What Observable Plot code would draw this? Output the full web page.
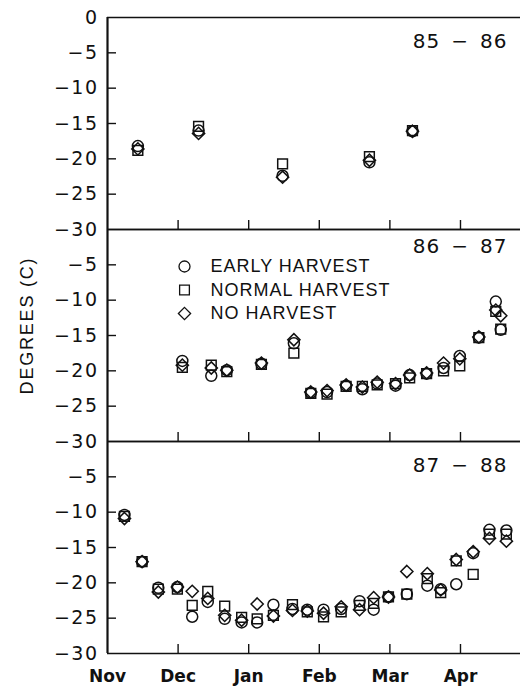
<!DOCTYPE html>
<html>
<head>
<meta charset="utf-8">
<script src="https://cdn.jsdelivr.net/npm/d3@7"></script>
<script src="https://cdn.jsdelivr.net/npm/@observablehq/plot@0.6"></script>
<style>
  html, body { margin: 0; padding: 0; background: #fff; }
  #chart { width: 520px; height: 686px; }
</style>
</head>
<body>
<div id="chart"></div>
<script>
// ---- tick labels / categories ----
const months = ["Nov", "Dec", "Jan", "Feb", "Mar", "Apr"];
const seasons = ["85 − 86", "86 − 87", "87 − 88"];
const seriesNames = ["EARLY HARVEST", "NORMAL HARVEST", "NO HARVEST"];
const yTicks = [-5, -10, -15, -20, -25, -30];
const yInnerTicks = [-5, -10, -15, -20, -25];
const monthTicks = [0, 1, 2, 3, 4, 5];
const innerMonthTicks = [1, 2, 3, 4, 5];

// ---- 1985-86 (x in months after Nov 1) ----
const dates8586  = [0.43, 1.29, 2.48, 3.71, 4.32];
const early8586  = [-18.2, -16.0, -22.4, -20.5, -16.1];
const normal8586 = [-18.8, -15.4, -20.7, -19.7, -16.0];
const no8586     = [-18.6, -16.4, -22.6, -20.2, -16.1];

// ---- 1986-87 ----
const dates8687  = [1.06, 1.47, 1.69, 2.18, 2.64, 2.88, 3.11, 3.38, 3.61, 3.82, 4.08, 4.28, 4.52, 4.76, 4.99, 5.26, 5.50, 5.57];
const early8687  = [-18.6, -20.7, -19.9, -19.0, -16.1, -23.1, -23.0, -22.1, -22.6, -21.8, -22.1, -20.6, -20.4, -19.6, -17.9, -15.3, -10.2, -14.2];
const normal8687 = [-19.5, -19.2, -20.1, -19.1, -17.5, -23.2, -23.3, -22.2, -22.2, -22.0, -21.8, -21.0, -20.4, -20.0, -19.3, -15.3, -11.6, -14.1];
const no8687     = [-19.2, -19.6, -19.9, -18.9, -15.6, -23.0, -22.8, -22.0, -22.3, -21.6, -21.8, -20.6, -20.3, -18.9, -18.3, -15.2, -11.4, -12.2];

// ---- 1987-88 ----
const dates8788  = [0.24, 0.49, 0.72, 0.99, 1.20, 1.42, 1.66, 1.90, 2.12, 2.35, 2.62, 2.83, 3.06, 3.31, 3.57, 3.77, 3.98, 4.24, 4.53, 4.72, 4.94, 5.18, 5.41, 5.65];
const early8788  = [-10.4, -17.0, -20.7, -20.6, -24.8, -22.7, -25.1, -25.6, -25.6, -23.1, -23.7, -23.8, -23.8, -23.7, -22.6, -23.8, -22.0, -21.6, -20.4, -20.9, -20.2, -15.8, -12.5, -12.6];
const normal8788 = [-10.6, -17.0, -20.9, -20.9, -23.2, -21.2, -23.3, -24.9, -25.1, -24.6, -23.1, -24.1, -24.8, -24.1, -23.2, -22.9, -22.0, -21.6, -19.4, -21.4, -16.9, -18.8, -13.1, -13.1];
const no8788     = [-10.9, -17.0, -21.3, -20.6, -21.2, -22.2, -24.6, -25.3, -23.0, -24.7, -23.9, -24.0, -24.3, -23.4, -23.8, -22.1, -22.0, -18.4, -18.7, -21.0, -16.7, -15.6, -13.7, -14.1];

const table = [
  {season: seasons[0], dates: dates8586, series: [early8586, normal8586, no8586]},
  {season: seasons[1], dates: dates8687, series: [early8687, normal8687, no8687]},
  {season: seasons[2], dates: dates8788, series: [early8788, normal8788, no8788]}
];
const rows = table.flatMap(t =>
  t.series.flatMap((vals, s) => t.dates.map((d, i) => ({season: t.season, date: d, series: seriesNames[s], value: vals[i]})))
);

const ink = "#111";
const seasonText = d => d.replace(" − ", "\u2002−\u2002");
const legendMarks = seriesNames.flatMap((name, i) => [
  Plot.dot([{season: seasons[1], series: name}], {
    fy: "season", symbol: "series", frameAnchor: "top-left", dx: 77, dy: 37 + i * 23.5,
    r: 5.5, stroke: ink, strokeWidth: 1.3, fill: "none"
  }),
  Plot.text([{season: seasons[1], label: name}], {
    fy: "season", text: "label", frameAnchor: "top-left", dx: 103, dy: 37 + i * 23.5,
    textAnchor: "start", lineAnchor: "middle", fontSize: 18, fill: ink,
    fontFamily: "Liberation Sans"
  })
]);

const chart = Plot.plot({
  width: 520,
  height: 686,
  marginLeft: 107,
  marginRight: 0,
  marginTop: 17,
  marginBottom: 33,
  x: {domain: [0, 5.85]},
  y: {domain: [-30, 0]},
  fy: {domain: seasons, padding: 0, axis: null},
  symbol: {domain: seriesNames, range: ["circle", "square", "diamond2"]},
  style: {fontFamily: "DejaVu Sans", color: ink, background: "white"},
  marks: [
    // frame lines of each panel
    Plot.ruleY([0, -30], {stroke: ink, strokeWidth: 1.5}),
    Plot.ruleX([0], {stroke: ink, strokeWidth: 2.2}),
    // inward ticks
    Plot.tickY(yInnerTicks, {y: d => d, insetRight: 404, stroke: ink, strokeWidth: 1.4}),
    Plot.tickX(innerMonthTicks, {x: d => d, insetTop: 203, stroke: ink, strokeWidth: 1.4}),
    // y tick labels
    Plot.axisY(yTicks, {
      tickSize: 0, tickPadding: 9, label: null, fontSize: 19,
      tickFormat: d => "−" + Math.abs(d)
    }),
    Plot.text([{season: seasons[0], v: 0}], {
      fy: "season", y: "v", text: d => String(d.v), frameAnchor: "left", dx: -9,
      textAnchor: "end", fontSize: 19, fill: ink
    }),
    // x tick labels
    Plot.axisX(monthTicks, {
      tickSize: 0, tickPadding: 16, label: null, fontSize: 17, fontWeight: "bold",
      tickFormat: i => months[i]
    }),
    // y title
    Plot.text([{season: seasons[1], t: "DEGREES (C)"}], {
      fy: "season", text: "t", frameAnchor: "left", dx: -80, dy: -10, rotate: -90,
      textAnchor: "middle", lineAnchor: "middle",
      fontSize: 18, fill: ink, fontFamily: "Liberation Sans"
    }),
    // season labels
    Plot.text([seasons[0], seasons[2]], {
      fy: d => d, text: seasonText, frameAnchor: "top-right",
      dx: -13, dy: 24, lineAnchor: "middle", textAnchor: "end", fontSize: 20, fill: ink
    }),
    Plot.text([seasons[1]], {
      fy: d => d, text: seasonText, frameAnchor: "top-right",
      dx: -13, dy: 17, lineAnchor: "middle", textAnchor: "end", fontSize: 20, fill: ink
    }),
    // legend
    ...legendMarks,
    // data
    Plot.dot(rows, {
      x: "date", y: "value", fy: "season", symbol: "series",
      r: 5.5, stroke: ink, strokeWidth: 1.5, fill: "none"
    })
  ]
});
document.getElementById("chart").appendChild(chart);

// letter spacing to mimic the wide lettering of the original
d3.select(chart).selectAll("text").each(function () {
  const t = this.textContent;
  let ls = null;
  if (/^−\d+$/.test(t) || t === "0") ls = "1.5px";
  else if (t === "DEGREES (C)") ls = "1.8px";
  else if (seriesNames.includes(t)) ls = "1px";
  else if (t.includes("\u2002")) ls = "1px";
  if (ls) this.style.letterSpacing = ls;
});
</script>
</body>
</html>
